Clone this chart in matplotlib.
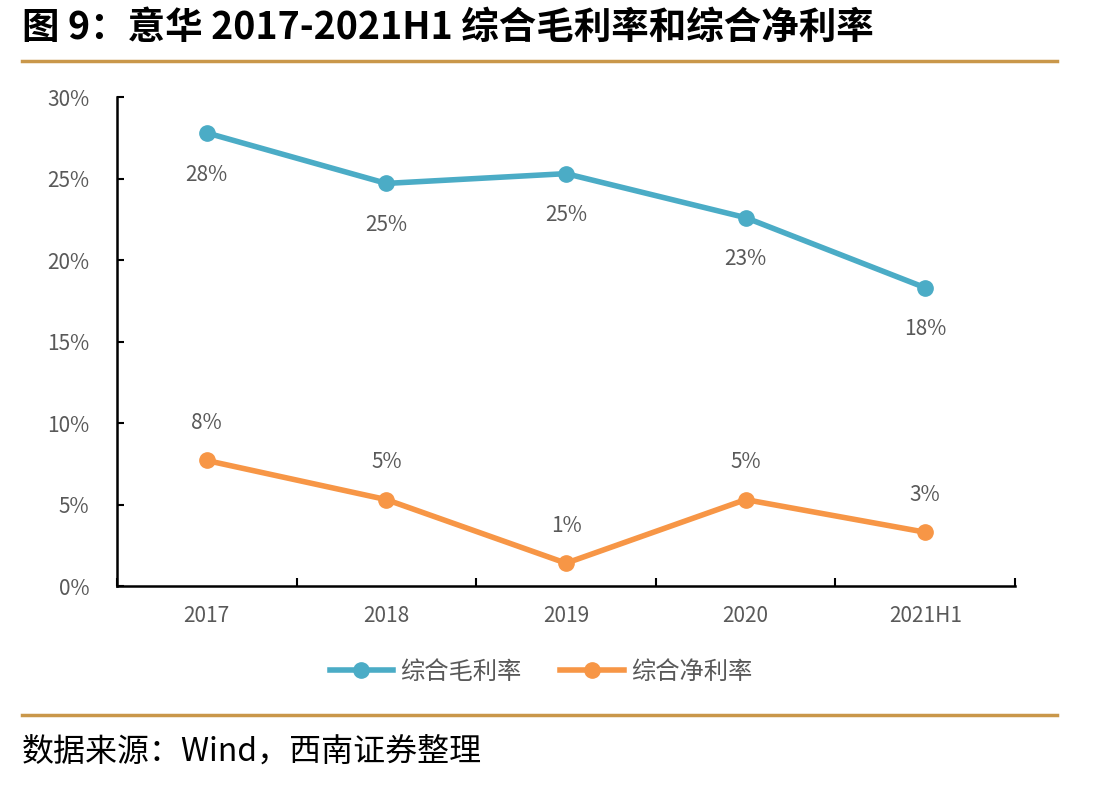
import matplotlib.pyplot as plt
import numpy as np

# data
years = ['2017', '2018', '2019', '2020', '2021H1']
gross_margin = [27.8, 24.7, 25.3, 22.6, 18.3]   # 综合毛利率 (%)
net_margin = [7.7, 5.3, 1.4, 5.3, 3.3]          # 综合净利率 (%)
yticks = [0, 5, 10, 15, 20, 25, 30]

plt.rcParams['font.family'] = ['Noto Sans CJK SC', 'DejaVu Sans']

blue = '#4BACC6'
orange = '#F79646'
grey = '#595959'
gold = '#C9974A'

fig = plt.figure(figsize=(11.12, 7.87), dpi=100)
ax = fig.add_axes([0.1052, 0.2554, 0.8076, 0.6213])

x = np.arange(len(years))
ax.plot(x, gross_margin, color=blue, lw=4, marker='o', ms=11, label='综合毛利率')
ax.plot(x, net_margin, color=orange, lw=4, marker='o', ms=11, label='综合净利率')

for xi, v in zip(x, gross_margin):
    ax.annotate(f'{v:.0f}%', (xi, v), xytext=(0, -30), textcoords='offset points',
                ha='center', va='center', fontsize=15, color=grey)
for xi, v in zip(x, net_margin):
    ax.annotate(f'{v:.0f}%', (xi, v), xytext=(0, 27), textcoords='offset points',
                ha='center', va='center', fontsize=15, color=grey)

ax.set_xlim(-0.5, len(years) - 0.5)
ax.set_ylim(0, 30)
ax.set_yticks(yticks)
ax.set_yticklabels([f'{t}%' for t in yticks])
ax.set_xticks(x)
ax.set_xticklabels(years)
ax.set_xticks(np.arange(len(years) + 1) - 0.5, minor=True)
ax.tick_params(axis='x', which='major', length=0, pad=14)
ax.tick_params(axis='x', which='minor', direction='in', length=6, width=1.5)
ax.tick_params(axis='y', direction='in', length=5, width=1.5, pad=20)
for lbl in ax.get_xticklabels() + ax.get_yticklabels():
    lbl.set_fontsize(15)
    lbl.set_color(grey)

for s in ['top', 'right']:
    ax.spines[s].set_visible(False)
for s in ['left', 'bottom']:
    ax.spines[s].set_linewidth(1.8)

leg = ax.legend(loc='center', bbox_to_anchor=(541 / 1112, 1 - 672 / 787),
                bbox_transform=fig.transFigure, ncol=2, frameon=False,
                fontsize=17.5, handlelength=2.6, handletextpad=0.3,
                columnspacing=1.6)
for t in leg.get_texts():
    t.set_color(grey)

fig.text(22 / 1112, 1 - 27 / 787, '图 9：意华 2017-2021H1 综合毛利率和综合净利率',
         fontsize=27, fontweight='bold', va='center', ha='left')
fig.add_artist(plt.Line2D([22 / 1112, 1057 / 1112], [1 - 61 / 787] * 2,
                          color=gold, lw=2.5, transform=fig.transFigure))
fig.add_artist(plt.Line2D([22 / 1112, 1057 / 1112], [1 - 715 / 787] * 2,
                          color=gold, lw=2.5, transform=fig.transFigure))
fig.text(22 / 1112, 1 - 752 / 787, '数据来源：Wind，西南证券整理',
         fontsize=23, style='italic', va='center', ha='left')

fig.savefig('out.png', dpi=100)
